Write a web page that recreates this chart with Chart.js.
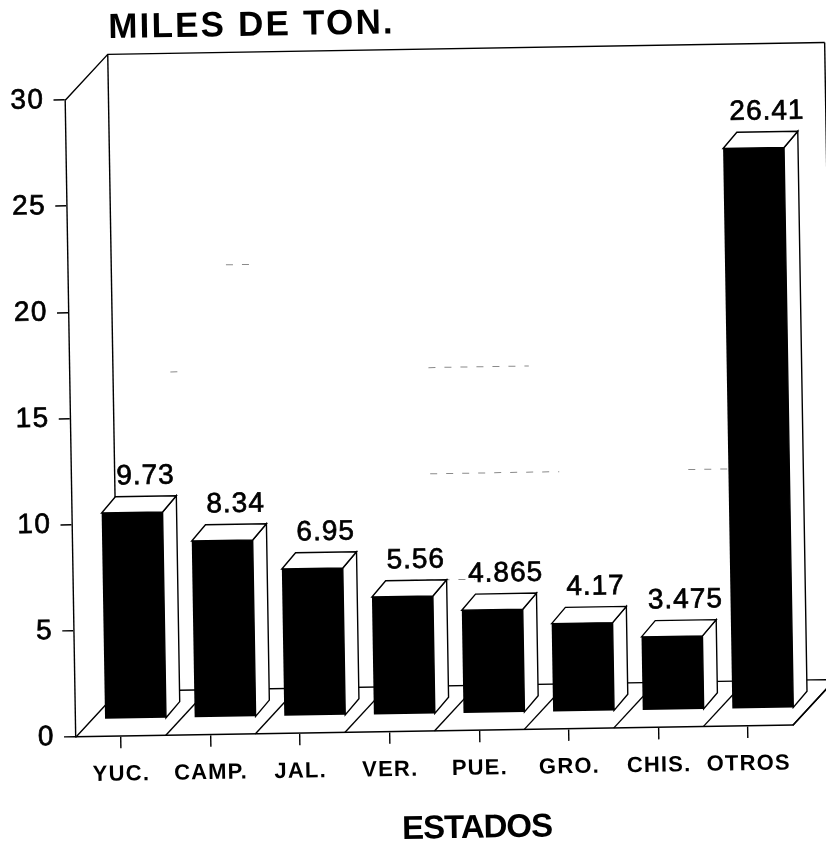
<!DOCTYPE html>
<html><head><meta charset="utf-8">
<style>html,body{margin:0;padding:0;background:#fff}canvas{display:block}</style>
<script src="https://cdn.jsdelivr.net/npm/chart.js@4"></script>
</head><body><canvas id="c" width="826" height="844"></canvas>
<script>
const categories = ["YUC.","CAMP.","JAL.","VER.","PUE.","GRO.","CHIS.","OTROS"];
const values = [9.73,8.34,6.95,5.56,4.865,4.17,3.475,26.41];
const yTicks = [0,5,10,15,20,25,30];
const titleText = "MILES DE TON.";
const xTitleText = "ESTADOS";

const FONT = "'Liberation Sans', Arial, sans-serif";
const TILT = 0.0165, PIVOT = [76,737];
const WALL = [43,-45], BAR_DEPTH = [14,-16], BAR_SHIFT = [15,-17];
// faded remains of the wall gridlines in the scan: value, from, to (fraction of plot width)
const FADED = [[20,0.16,0.2],[15,0.08,0.1],[15,0.44,0.58],[10,0.44,0.62],[10,0.8,0.86],[5,0.41,0.5]];

function poly(ctx, pts, fill){
  ctx.beginPath();
  pts.forEach((p,i)=> i?ctx.lineTo(p[0],p[1]):ctx.moveTo(p[0],p[1]));
  if(fill){ctx.closePath();ctx.fillStyle=fill;ctx.fill();}
  ctx.stroke();
}
function spaced(obj,name,sp,dx,dy){
  const orig=obj[name];
  obj[name]=function(...args){
    const c=this.ctx;c.save();c.letterSpacing=sp;if(dx||dy)c.translate(dx||0,dy||0);
    orig.apply(this,args);c.restore();
  };
}
const pseudo3d = {
  id:'pseudo3d',
  beforeDraw(chart){
    const ctx=chart.ctx;
    ctx.save();
    ctx.fillStyle='#fff';ctx.fillRect(0,0,chart.width,chart.height);
    ctx.translate(PIVOT[0],PIVOT[1]);ctx.rotate(-TILT);ctx.translate(-PIVOT[0],-PIVOT[1]);
  },
  afterLayout(chart){
    const t=chart.titleBlock;
    if(t) t.left=120;
    const xs=chart.scales.x, ys=chart.scales.y;
    if(!xs.__patched){
      spaced(xs,'drawTitle','-1px',41,11);
      spaced(xs,'drawLabels','1.2px');
      spaced(ys,'drawLabels','1.5px');
      spaced(t,'draw','2.2px');
      xs.__patched=true;
    }
  },
  beforeDatasetsDraw(chart){
    const ctx=chart.ctx,a=chart.chartArea,xs=chart.scales.x,ys=chart.scales.y;
    const [wx,wy]=WALL,[dx,dy]=BAR_DEPTH;
    ctx.save();
    ctx.strokeStyle='#000';ctx.lineWidth=1.4;
    // back wall and floor
    poly(ctx,[[a.left,a.top],[a.left+wx,a.top+wy],[a.right+wx,a.top+wy]]);
    poly(ctx,[[a.left,a.bottom],[a.left+wx,a.bottom+wy],[a.right+wx,a.bottom+wy],[a.right,a.bottom]]);
    poly(ctx,[[a.left+wx,a.top+wy],[a.left+wx,a.bottom+wy]]);
    poly(ctx,[[a.right+wx,a.top+wy],[a.right+wx,a.bottom+wy]]);
    // floor separators
    const step=xs.getPixelForTick(1)-xs.getPixelForTick(0);
    categories.forEach((_,i)=>{
      const x=xs.getPixelForTick(i)+step/2;
      poly(ctx,[[x,a.bottom],[x+wx,a.bottom+wy]]);
    });
    // faded gridline fragments
    ctx.save();
    ctx.strokeStyle='#8a8a8a';ctx.lineWidth=1;ctx.setLineDash([7,9]);
    FADED.forEach(([v,f0,f1])=>{
      const y=ys.getPixelForValue(v)+wy,w=a.right-a.left;
      poly(ctx,[[a.left+wx+f0*w,y],[a.left+wx+f1*w,y]]);
    });
    ctx.restore();
    // side and top faces of each bar
    const meta=chart.getDatasetMeta(0);
    ctx.translate(BAR_SHIFT[0],BAR_SHIFT[1]);
    meta.data.forEach(b=>{
      const l=b.x-b.width/2,r=b.x+b.width/2,t=b.y,base=b.base;
      poly(ctx,[[r,t],[r+dx,t+dy],[r+dx,base+dy],[r,base]],'#fff');
      poly(ctx,[[l,t],[l+dx,t+dy],[r+dx,t+dy],[r,t]],'#fff');
    });
    ctx.restore();
    ctx.save();
    ctx.translate(BAR_SHIFT[0],BAR_SHIFT[1]);
  },
  afterDatasetsDraw(chart){
    const ctx=chart.ctx;
    ctx.restore();
    const [dx,dy]=BAR_DEPTH;
    ctx.save();
    ctx.fillStyle='#000';ctx.strokeStyle='#000';ctx.lineWidth=0.7;
    ctx.textAlign='center';ctx.textBaseline='middle';
    ctx.font="28px "+FONT;ctx.letterSpacing='1px';
    chart.getDatasetMeta(0).data.forEach((b,i)=>{
      const s=String(values[i]),x=b.x+BAR_SHIFT[0]+dx,y=b.y+BAR_SHIFT[1]+dy-20;
      ctx.fillText(s,x,y);ctx.strokeText(s,x,y);
    });
    ctx.restore();
  },
  afterDraw(chart){chart.ctx.restore();}
};

new Chart(document.getElementById('c'),{
  type:'bar',
  data:{labels:categories,datasets:[{data:values,backgroundColor:'#000',borderWidth:0,
    barPercentage:0.68,categoryPercentage:1,clip:false}]},
  plugins:[pseudo3d],
  options:{
    responsive:false,animation:false,devicePixelRatio:1,
    layout:{padding:{right:33}},
    plugins:{
      legend:{display:false},tooltip:{enabled:false},
      title:{display:true,text:titleText,align:'start',color:'#000',fullSize:false,
        font:{family:FONT,size:35,weight:'bold',lineHeight:1.2},padding:{top:8,bottom:50}}
    },
    scales:{
      x:{
        afterFit(s){s.height=107;},
        grid:{drawOnChartArea:false,drawTicks:true,tickLength:12,color:'#000',lineWidth:1.4,offset:false},
        border:{display:true,color:'#000',width:1.6},
        ticks:{color:'#000',padding:13,maxRotation:0,minRotation:0,autoSkip:false,
          font:{family:FONT,size:22,weight:'bold'}},
        title:{display:true,text:xTitleText,color:'#000',
          font:{family:FONT,size:33,weight:'bold',lineHeight:1.2},padding:0}
      },
      y:{
        min:0,max:30,
        afterFit(s){s.width=76;},
        afterBuildTicks(s){s.ticks=yTicks.map(v=>({value:v}));},
        grid:{drawOnChartArea:false,drawTicks:true,tickLength:12,color:'#000',lineWidth:1.4},
        border:{display:true,color:'#000',width:1.4},
        ticks:{color:'#000',padding:9,textStrokeColor:'#000',textStrokeWidth:0.7,font:{family:FONT,size:28}}
      }
    }
  }
});
</script></body></html>
